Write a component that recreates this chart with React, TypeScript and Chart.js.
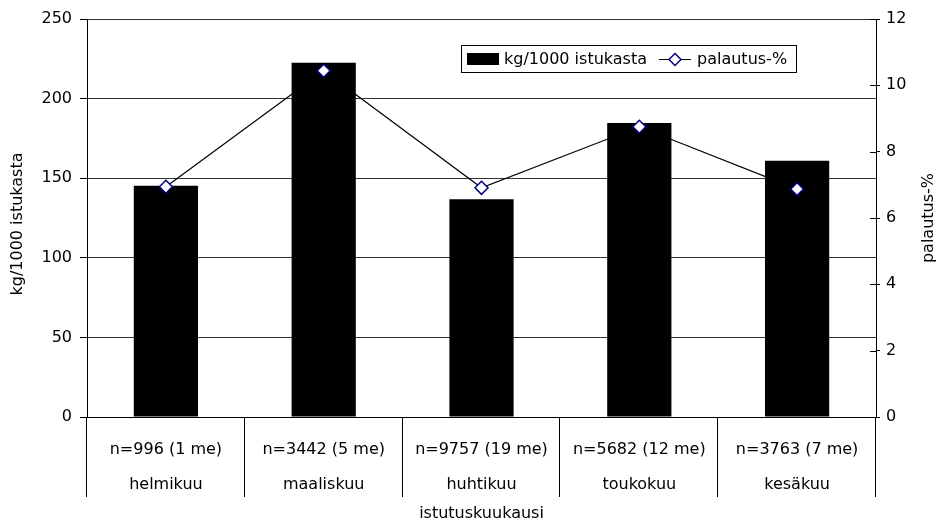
import React, { useEffect, useRef } from "react";
import { Chart, registerables } from "chart.js";

Chart.register(...registerables);

const months = ["helmikuu", "maaliskuu", "huhtikuu", "toukokuu", "kesäkuu"];
const sampleLabels = ["n=996 (1 me)", "n=3442 (5 me)", "n=9757 (19 me)", "n=5682 (12 me)", "n=3763 (7 me)"];
const kgPer1000 = [145.2, 222.5, 136.8, 184.6, 160.9];
const palautus = [6.94, 10.44, 6.91, 8.75, 6.87];
const barLabel = "kg/1000 istukasta";
const lineLabel = "palautus-%";
const xTitle = "istutuskuukausi";
const leftTicks = { min: 0, max: 250, step: 50 };
const rightTicks = { min: 0, max: 12, step: 2 };

const FONT = '"DejaVu Sans", sans-serif';
const NAVY = "#000080";

const overlay = {
  id: "overlay",
  afterDraw(chart: any) {
    const { ctx, chartArea: ca, scales } = chart;
    const xs = scales.x;
    const y1 = scales.y1;
    ctx.save();
    ctx.strokeStyle = "#000";
    ctx.lineWidth = 1;
    // category separators
    const n = xs.ticks.length;
    ctx.beginPath();
    for (let i = 0; i <= n; i++) {
      let bx: number;
      if (i === 0) bx = ca.left;
      else if (i === n) bx = ca.right;
      else bx = (xs.getPixelForTick(i - 1) + xs.getPixelForTick(i)) / 2;
      const px = Math.round(bx) - 0.5;
      ctx.moveTo(px, ca.bottom);
      ctx.lineTo(px, ca.bottom + 80);
    }
    ctx.stroke();
    // inner tick marks on right axis
    ctx.beginPath();
    y1.ticks.forEach((_t: any, i: number) => {
      const py = Math.round(y1.getPixelForTick(i)) + 0.5;
      ctx.moveTo(ca.right - 6, py);
      ctx.lineTo(ca.right, py);
    });
    ctx.stroke();

    // axis titles
    ctx.fillStyle = "#000";
    ctx.font = `16px ${FONT}`;
    ctx.textAlign = "center";
    ctx.textBaseline = "middle";
    ctx.save();
    ctx.translate(18, 224);
    ctx.rotate(-Math.PI / 2);
    ctx.fillText(barLabel, 0, 0);
    ctx.restore();
    ctx.save();
    ctx.translate(929, 218);
    ctx.rotate(-Math.PI / 2);
    ctx.fillText(lineLabel, 0, 0);
    ctx.restore();
    ctx.fillText(xTitle, (ca.left + ca.right) / 2, 514);

    // legend
    ctx.fillStyle = "#fff";
    ctx.fillRect(461, 45, 335, 27);
    ctx.strokeStyle = "#000";
    ctx.strokeRect(461.5, 45.5, 335, 27);
    ctx.fillStyle = "#000";
    ctx.fillRect(467, 53, 32, 12);
    ctx.textAlign = "left";
    ctx.fillText(barLabel, 504, 59.5);
    ctx.beginPath();
    ctx.moveTo(659, 59.5);
    ctx.lineTo(691, 59.5);
    ctx.stroke();
    ctx.beginPath();
    ctx.moveTo(675, 53.5);
    ctx.lineTo(681, 59.5);
    ctx.lineTo(675, 65.5);
    ctx.lineTo(669, 59.5);
    ctx.closePath();
    ctx.fillStyle = "#fff";
    ctx.fill();
    ctx.strokeStyle = NAVY;
    ctx.lineWidth = 1.5;
    ctx.stroke();
    ctx.fillStyle = "#000";
    ctx.fillText(lineLabel, 697, 59.5);
    ctx.restore();
  },
};

export default function App() {
  const ref = useRef<HTMLCanvasElement | null>(null);
  useEffect(() => {
    if (!ref.current) return;
    Chart.defaults.color = "#000";
    const chart = new Chart(ref.current, {
      type: "bar",
      data: {
        labels: months.map((m, i) => [sampleLabels[i], m]),
        datasets: [
          {
            type: "line",
            label: lineLabel,
            data: palautus,
            yAxisID: "y1",
            borderColor: "#000",
            borderWidth: 1.2,
            pointStyle: "rectRot",
            pointRadius: 6.5,
            pointBackgroundColor: "#fff",
            pointBorderColor: NAVY,
            pointBorderWidth: 1.5,
            order: 0,
          } as any,
          {
            type: "bar",
            label: barLabel,
            data: kgPer1000,
            yAxisID: "y",
            backgroundColor: "#000",
            barPercentage: 0.407,
            categoryPercentage: 1,
            order: 1,
          },
        ],
      },
      options: {
        animation: false,
        responsive: true,
        maintainAspectRatio: false,
        layout: { padding: { top: 19, left: 0, right: 0, bottom: 0 } },
        plugins: { legend: { display: false }, tooltip: { enabled: false } },
        scales: {
          x: {
            grid: { display: false },
            border: { display: true, color: "#000" },
            ticks: {
              padding: 7,
              color: "#000",
              font: { family: FONT, size: 16, lineHeight: 35 / 16 },
              maxRotation: 0,
              autoSkip: false,
            },
            afterFit: (s: any) => {
              s.height = 107;
            },
          },
          y: {
            position: "left",
            min: leftTicks.min,
            max: leftTicks.max,
            ticks: { stepSize: leftTicks.step, padding: 8, color: "#000", font: { family: FONT, size: 16 } },
            grid: { color: "#333", tickColor: "#000", tickLength: 7, lineWidth: 1 },
            border: { color: "#000" },
            afterFit: (s: any) => {
              s.width = 87;
            },
          },
          y1: {
            position: "right",
            min: rightTicks.min,
            max: rightTicks.max,
            ticks: { stepSize: rightTicks.step, padding: 6, color: "#000", font: { family: FONT, size: 16 } },
            grid: { drawOnChartArea: false, tickColor: "#000", tickLength: 4 },
            border: { color: "#000" },
            afterFit: (s: any) => {
              s.width = 63;
            },
          },
        },
      },
      plugins: [overlay],
    });
    return () => chart.destroy();
  }, []);
  return (
    <div style={{ position: "fixed", left: 0, top: 0, width: 939, height: 524, background: "#fff" }}>
      <canvas ref={ref} />
    </div>
  );
}
